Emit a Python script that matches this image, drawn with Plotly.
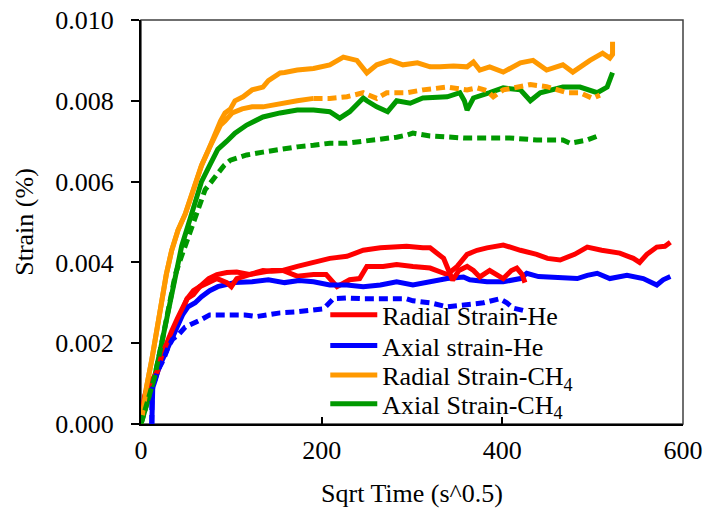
import plotly.graph_objects as go

# ---- Radial strain, helium (test 1 and test 2)
he_rad1_x = [0, 4, 7, 12, 18, 23, 28, 34, 40, 46, 51, 58, 65, 75, 84, 95, 106, 120, 135, 145, 157,
             173, 191, 205, 217, 231, 242, 250, 268, 283, 301, 320, 339, 350, 361, 372, 383, 401,
             420, 438, 450, 464, 480, 494, 510, 530, 545, 552, 560, 571, 580, 586]
he_rad1_y = [0, .0006, .0008, .0010, .00126, .0016, .0019, .0022, .0025, .0028, .0031, .0033, .0034,
             .0036, .0037, .00375, .00376, .0037, .00376, .0038, .0038, .00366, .0037, .0037, .0034,
             .00357, .0036, .0039, .0039, .00395, .0039, .00386, .0037, .0039, .0042, .0043, .00436,
             .00443, .0043, .0042, .0041, .00406, .0042, .00438, .0043, .00423, .0041, .0040, .0042,
             .00438, .0044, .0045]
he_rad2_x = [0, 4, 7, 12, 18, 23, 28, 34, 40, 46, 51, 58, 65, 75, 84, 95, 100, 106, 120, 135, 145, 157,
             173, 191, 209, 228, 246, 265, 283, 294, 312, 320, 335, 345, 352, 361, 368, 375, 386, 401,
             410, 416, 422, 425]
he_rad2_y = [0, .0007, .0009, .0011, .0013, .0017, .0020, .0023, .0026, .0029, .0031, .0032, .0034,
             .0035, .0036, .0035, .0034, .0036, .0037, .0038, .00378, .0038, .0039, .0040, .0041,
             .00415, .0043, .00436, .00438, .0044, .00436, .00436, .0041, .00356, .0038, .0039,
             .0038, .00364, .0038, .0036, .0038, .00386, .0037, .0035]

# ---- Axial strain, helium
he_ax1_x = [12, 12, 13, 16, 19, 24, 30, 36, 41, 46, 52, 60, 67, 76, 85, 95, 104, 123, 141, 159, 175,
            191, 209, 228, 246, 265, 283, 301, 320, 339, 357, 364, 383, 401, 420, 427, 440, 456, 470,
            483, 494, 505, 519, 538, 556, 565, 571, 578, 586]
he_ax1_y = [0, .0006, .0009, .0011, .00134, .0016, .0019, .0022, .0025, .0027, .0029, .0030, .00315,
            .0033, .0034, .00345, .0035, .00352, .00357, .0035, .00355, .00352, .00344, .00344, .0034,
            .00344, .00352, .00344, .00352, .0036, .00364, .00357, .00352, .00352, .0036, .00373,
            .00365, .00364, .00362, .0036, .00368, .00373, .0036, .00368, .0036, .00352, .00344,
            .00357, .00365]
he_ax2_x = [12, 12, 14, 19, 25, 30, 35, 41, 49, 60, 68, 76, 88, 99, 115, 128, 141, 154, 170, 184, 202,
            213, 228, 246, 265, 283, 294, 301, 320, 339, 357, 370, 379, 397, 405, 412, 425]
he_ax2_y = [0, .0008, .0010, .00134, .0016, .0019, .0021, .0022, .0024, .0025, .0026, .0027, .0027,
            .0027, .0027, .00266, .00272, .00275, .00277, .0028, .00285, .0031, .00312, .0031, .0031,
            .0031, .0031, .00305, .003, .0029, .00295, .003, .003, .0031, .0030, .00287, .0028]

# ---- Radial strain, methane
ch4_rad1_x = [0, 3, 6, 12, 18, 23, 28, 34, 41, 49, 58, 67, 75, 82, 88, 93, 99, 104, 113, 123, 135,
              141, 154, 159, 173, 191, 209, 224, 239, 250, 261, 276, 290, 306, 320, 331, 346, 361,
              368, 375, 386, 401, 420, 434, 449, 467, 478, 497, 511, 519, 522, 522]
ch4_rad1_y = [0, .0005, .0009, .0016, .0024, .0031, .0037, .0043, .0048, .0052, .0058, .0064, .0068,
              .0072, .0075, .0077, .0078, .0080, .0081, .00827, .00834, .0085, .00869, .0087, .00876,
              .0088, .00889, .00908, .0090, .00869, .00889, .0090, .00889, .00894, .00884, .00884,
              .00886, .00884, .00896, .00876, .00884, .00871, .00894, .0090, .00876, .00889, .00871,
              .0090, .00918, .00906, .00915, .00946]
ch4_rad2_x = [0, 3, 6, 12, 18, 23, 28, 34, 41, 49, 58, 67, 75, 82, 88, 93, 101, 112, 123, 135, 154,
              173, 191, 209, 228, 246, 261, 272, 294, 312, 339, 361, 372, 383, 390, 401, 431, 449,
              472, 486, 500, 508]
ch4_rad2_y = [0, .0005, .0009, .0016, .0024, .0031, .0037, .0043, .0048, .0052, .0058, .0064, .0068,
              .0071, .0074, .0075, .0077, .0078, .00785, .00785, .00794, .0080, .00806, .00806,
              .0081, .0082, .00806, .0082, .0082, .00827, .00834, .00827, .00832, .00825, .0081,
              .00827, .0084, .00835, .0082, .0082, .00806, .00814]

# ---- Axial strain, methane
ch4_ax1_x = [0, 5, 10, 15, 22, 30, 38, 45, 56, 67, 76, 85, 95, 104, 117, 135, 154, 173, 191, 209,
             220, 231, 246, 250, 261, 273, 283, 298, 312, 339, 353, 358, 361, 368, 386, 401, 420,
             431, 442, 467, 486, 505, 516, 521, 522]
ch4_ax1_y = [0, .0004, .0008, .00116, .0019, .0028, .0036, .0044, .0052, .0060, .0064, .0068, .0070,
             .0072, .0074, .0076, .0077, .00777, .00777, .00773, .00757, .00773, .00807, .0080,
             .00785, .00773, .0080, .00794, .00807, .0081, .0082, .0080, .00777, .00807, .0082,
             .00832, .00827, .0080, .0082, .00834, .00834, .0082, .00834, .0086, .0087]
ch4_ax2_x = [0, 5, 10, 15, 22, 27, 33, 38, 44, 49, 55, 60, 66, 71, 78, 85, 92, 99, 108, 117, 135, 154,
             173, 191, 209, 228, 246, 265, 283, 294, 301, 320, 340, 357, 380, 408, 438, 467, 475, 494,
             508]
ch4_ax2_y = [0, .0004, .0008, .00116, .0019, .0025, .0032, .0037, .0041, .0044, .0048, .0051, .0055,
             .0058, .0060, .0062, .0064, .00653, .0066, .00666, .00673, .0068, .00686, .0069, .00695,
             .00695, .0070, .00703, .0071, .00715, .0072, .00713, .0071, .00708, .00708, .00708,
             .00703, .00703, .00695, .00703, .00715]

series_names = ["Radial Strain-He", "Axial strain-He",
                "Radial Strain-CH<sub>4</sub>", "Axial Strain-CH<sub>4</sub>"]
RED, BLUE, ORANGE, GREEN = "#FF0000", "#0000FF", "#FF9900", "#009900"
FONT = "Liberation Serif"
FS = 26
LW = 5
DASH = "9px,5px"

fig = go.Figure()

# first test: solid lines, each in its own legend row
legend_ids = ["legend", "legend2", "legend3", "legend4"]
for xs, ys, name, col, lg in [(he_rad1_x, he_rad1_y, series_names[0], RED, legend_ids[0]),
                              (he_ax1_x, he_ax1_y, series_names[1], BLUE, legend_ids[1]),
                              (ch4_rad1_x, ch4_rad1_y, series_names[2], ORANGE, legend_ids[2]),
                              (ch4_ax1_x, ch4_ax1_y, series_names[3], GREEN, legend_ids[3])]:
    fig.add_trace(go.Scatter(x=xs, y=ys, mode="lines", name=name, legend=lg,
                             line=dict(color=col, width=LW)))

# second test: repeat runs, not in the legend
fig.add_trace(go.Scatter(x=he_rad2_x, y=he_rad2_y, mode="lines", showlegend=False,
                         line=dict(color=RED, width=LW)))
fig.add_trace(go.Scatter(x=he_ax2_x, y=he_ax2_y, mode="lines", showlegend=False,
                         line=dict(color=BLUE, width=LW, dash=DASH)))
split = 191
head = [i for i, v in enumerate(ch4_rad2_x) if v <= split]
tail = [i for i, v in enumerate(ch4_rad2_x) if v >= split]
fig.add_trace(go.Scatter(x=[ch4_rad2_x[i] for i in head], y=[ch4_rad2_y[i] for i in head],
                         mode="lines", showlegend=False, line=dict(color=ORANGE, width=LW)))
fig.add_trace(go.Scatter(x=[ch4_rad2_x[i] for i in tail], y=[ch4_rad2_y[i] for i in tail],
                         mode="lines", showlegend=False,
                         line=dict(color=ORANGE, width=LW, dash=DASH)))
fig.add_trace(go.Scatter(x=ch4_ax2_x, y=ch4_ax2_y, mode="lines", showlegend=False,
                         line=dict(color=GREEN, width=LW, dash=DASH)))

# legend rows, centred on their rows inside the plot
legend_rows_y = [0.270, 0.194, 0.121, 0.050]
legend_style = dict(x=0.340, xanchor="left", yanchor="middle", bgcolor="rgba(0,0,0,0)",
                    font=dict(family=FONT, size=FS, color="black"), itemwidth=47,
                    borderwidth=0)
legends = {lg: dict(legend_style, y=yy) for lg, yy in zip(legend_ids, legend_rows_y)}

fig.update_layout(
    width=706, height=513,
    margin=dict(l=141, r=23, t=20, b=89, autoexpand=False),
    paper_bgcolor="white", plot_bgcolor="white",
    font=dict(family=FONT, size=FS, color="black"),
    showlegend=True,
    shapes=[dict(type="rect", xref="paper", yref="paper", x0=0, y0=0, x1=1, y1=1,
                 line=dict(color="#404040", width=1.5), layer="below")],
    **legends,
)
axis_font = dict(family=FONT, size=FS, color="black")
fig.update_xaxes(range=[0, 600], dtick=200, tick0=0, ticks="inside", ticklen=7, tickwidth=1.5,
                 tickcolor="black", showline=True, linecolor="black", linewidth=2,
                 showgrid=False, zeroline=False, ticklabelstandoff=2, automargin=False,
                 tickfont=axis_font,
                 title=dict(text="Sqrt Time (s^0.5)", standoff=20, font=axis_font))
fig.update_yaxes(range=[0, 0.010], dtick=0.002, tick0=0, tickformat=".3f", ticks="outside",
                 ticklen=8, tickwidth=1.5, tickcolor="black", showline=True, linecolor="black",
                 linewidth=2, showgrid=False, zeroline=False, ticklabelstandoff=12,
                 automargin=False, tickfont=axis_font,
                 title=dict(text="Strain (%)", standoff=14, font=axis_font))

fig.write_html("out.html")
